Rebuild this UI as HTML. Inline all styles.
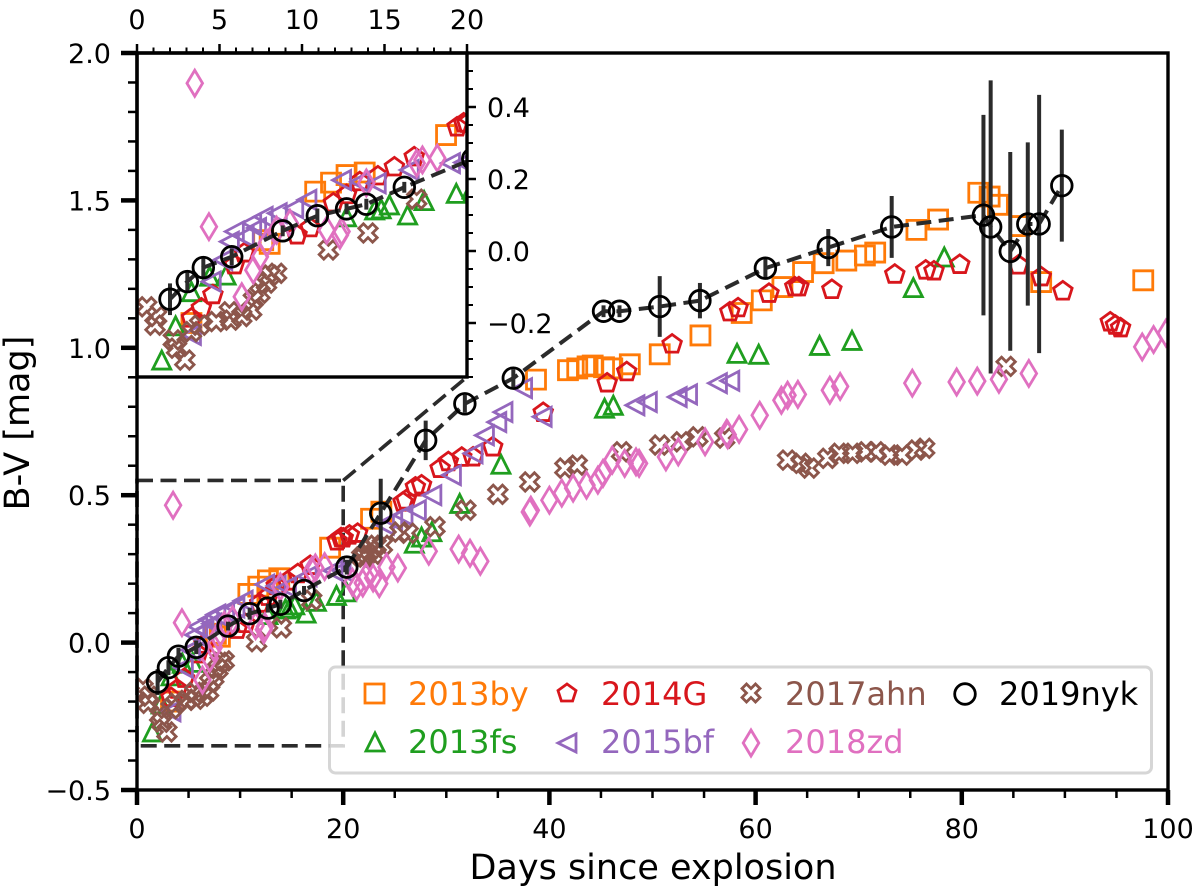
<!DOCTYPE html>
<html lang="en">
<head>
<meta charset="utf-8">
<title>B-V colour evolution</title>
<style>
  html, body { margin: 0; padding: 0; background: #fff; }
  svg { display: block; }
  text { font-family: "DejaVu Sans", "Liberation Sans", sans-serif; fill: #000; }
</style>
</head>
<body>
<svg id="chart" xmlns="http://www.w3.org/2000/svg" width="1200" height="888" viewBox="0 0 1200 888">
  <defs>
    <clipPath id="clip-main"><rect x="137" y="53" width="1031" height="737"/></clipPath>
    <clipPath id="clip-inset"><rect x="137" y="53" width="330" height="324"/></clipPath>
  </defs>
  <rect x="137" y="53" width="1031" height="737" fill="#fff"/>
  <g id="main-zoom-box" fill="none" stroke="#2b2b2b" stroke-width="3.6" stroke-dasharray="16 7.5"></g>
  <g id="main-series" clip-path="url(#clip-main)"></g>
  <g id="main-ticks"></g>

  <rect x="137" y="53" width="330" height="324" fill="#fff"/>
  <g id="inset-series" clip-path="url(#clip-inset)"></g>
  <g id="inset-ticks"></g>

  <g stroke="#000" stroke-width="3.4" fill="none">
    <rect x="137" y="53" width="1031" height="737"/>
  </g>
  <g stroke="#000" stroke-width="3.4" fill="none">
    <rect x="137" y="53" width="330" height="324"/>
  </g>

  <text x="653" y="879" font-size="35" text-anchor="middle">Days since explosion</text>
  <text x="0" y="0" font-size="35" text-anchor="middle" transform="translate(29,423) rotate(-90)">B-V [mag]</text>

  <g>
    <rect x="329.5" y="667" width="822" height="106" rx="6" fill="#fff" fill-opacity="0.8" stroke="#ccc" stroke-opacity="0.8" stroke-width="3"/>
    <g>
      <rect x="365" y="684" width="19" height="19" fill="none" stroke="#ff7a08" stroke-width="2.8"/>
      <text x="408" y="705" font-size="32" style="fill:#ff7a08">2013by</text>
    </g>
    <g>
      <polygon points="375,733 366,751 384,751" fill="none" stroke="#1f9e1f" stroke-width="2.8"/>
      <text x="408" y="753" font-size="32" style="fill:#1f9e1f">2013fs</text>
    </g>
    <g>
      <polygon points="567,684 576,690.5 572.6,701 561.4,701 558,690.5" fill="none" stroke="#d8161c" stroke-width="2.8"/>
      <text x="601" y="705" font-size="32" style="fill:#d8161c">2014G</text>
    </g>
    <g>
      <polygon points="558,743 576,734 576,752" fill="none" stroke="#9467bd" stroke-width="2.8"/>
      <text x="601" y="753" font-size="32" style="fill:#9467bd">2015bf</text>
    </g>
    <g>
      <polygon points="746.5,684 751,688.5 755.5,684 760,688.5 755.5,693 760,697.5 755.5,702 751,697.5 746.5,702 742,697.5 746.5,693 742,688.5" fill="none" stroke="#8c564b" stroke-width="2.8"/>
      <text x="785" y="705" font-size="32" style="fill:#8c564b">2017ahn</text>
    </g>
    <g>
      <polygon points="751,730 758.8,743 751,756 743.2,743" fill="none" stroke="#e070c0" stroke-width="2.8"/>
      <text x="785" y="753" font-size="32" style="fill:#e070c0">2018zd</text>
    </g>
    <g>
      <circle cx="965" cy="694" r="10.3" fill="none" stroke="#000" stroke-width="2.8"/>
      <text x="999" y="705" font-size="32">2019nyk</text>
    </g>
  </g>
</svg>

<script>
const byDays = [3.3,7.65,8.04,10.8,11.76,12.7,13.8,18.73,22.7,23.7,38.7,41.8,42.7,43.7,44.2,45.3,46.1,47.8,50.7,54.65,58.65,60.6,62.6,64.6,66.6,68.8,70.6,71.6,75.6,77.7,81.6,82.7,83.5,85.6,87.7,97.6];
const byColor = [-0.2,0.03,0.02,0.165,0.19,0.211,0.218,0.322,0.42,0.444,0.892,0.924,0.93,0.937,0.94,0.934,0.93,0.944,0.978,1.042,1.118,1.161,1.206,1.257,1.287,1.296,1.313,1.323,1.4,1.435,1.526,1.513,1.485,1.413,1.223,1.229];

const fsDays = [1.5,2.34,3.3,4.4,5.4,12.7,14.4,14.8,15.3,16.4,17.4,19.35,20.3,26.9,27.6,28.6,31.3,35.3,45.35,46.2,58.2,60.3,66.2,69.35,75.3,78.3];
const fsColor = [-0.303,-0.208,-0.113,-0.07,-0.067,0.095,0.114,0.117,0.128,0.1,0.14,0.16,0.172,0.337,0.358,0.376,0.472,0.605,0.795,0.805,0.981,0.978,1.008,1.025,1.204,1.308];

const gDays = [3.3,3.9,4.6,5.9,6.5,9.7,10.5,11.9,12.7,13.5,14.6,15.6,16.8,19.4,19.8,20,20.6,21.4,25.8,26.1,27,27.6,29.4,30.2,31.5,32.6,34.5,39.4,45.6,47.5,51.9,57.5,58.3,61.3,63.8,64.2,67.4,73.5,76.5,77.3,79.8,85.5,87.7,89.8,94.4,94.9,95.4];
const gColor = [-0.187,-0.159,-0.122,-0.039,-0.006,0.044,0.064,0.133,0.156,0.192,0.208,0.233,0.261,0.344,0.355,0.354,0.364,0.37,0.476,0.483,0.527,0.534,0.59,0.613,0.628,0.629,0.663,0.78,0.88,0.918,1.012,1.121,1.135,1.184,1.206,1.206,1.197,1.249,1.263,1.26,1.282,1.28,1.24,1.192,1.087,1.076,1.067];

const bfDays = [3.3,4.5,5.2,5.6,5.9,6.5,6.95,7.25,7.65,8.5,9.5,10.3,12.4,13.5,14.5,16.5,19,19.8,24,24.8,25.8,27.1,28.6,30.5,32.6,33.7,34.9,35.5,37.4,39.3,48.3,49.5,52.4,53.4,56.3,57.5];
const bfColor = [-0.233,-0.085,-0.025,0.026,0.054,0.04,0.078,0.064,0.095,0.105,0.119,0.142,0.197,0.192,0.188,0.225,0.244,0.246,0.4,0.415,0.432,0.449,0.5,0.568,0.642,0.703,0.748,0.782,0.863,0.766,0.805,0.816,0.833,0.842,0.88,0.888];

const ahnDays = [0.59,1.09,1.19,2.2,2.4,2.9,3.3,3.8,4.8,5.6,5.7,6.35,6.95,7.05,7.45,7.85,8.07,8.46,11.6,14,16.95,21.8,22.1,22.3,22.6,22.9,23.2,23.8,25.5,26.3,28.9,31.9,35,38.1,41.5,42.7,47,50.7,52.8,54.4,57,63.1,64.4,65.2,67,68.1,69.4,70.7,71.7,73,74.2,75.6,76.4,84.3];
const ahnColor = [-0.155,-0.206,-0.182,-0.247,-0.27,-0.303,-0.224,-0.206,-0.196,-0.169,-0.192,-0.182,-0.164,-0.136,-0.117,-0.089,-0.067,-0.062,0.003,0.05,0.144,0.29,0.29,0.303,0.314,0.3,0.33,0.33,0.375,0.371,0.393,0.449,0.503,0.545,0.592,0.602,0.647,0.67,0.681,0.698,0.694,0.619,0.608,0.592,0.625,0.642,0.642,0.647,0.647,0.636,0.636,0.653,0.659,0.937];

const zdDays = [3.5,4.36,6.35,7.05,7.45,7.86,8.46,9.27,11.5,12.3,12.4,13.9,16.95,17.3,18.2,20.9,21.3,21.9,22.2,22.9,23.5,24.2,25.3,28.3,31.2,32.3,33.3,38.1,38.2,40,41.2,42.3,43.6,44.7,45.2,46.1,47.3,48.4,48.7,51.3,52.5,55.1,57.2,57.3,58.4,60.4,62.5,63.1,64.1,67.2,68.2,75.2,79.5,81.5,83.6,86.5,97.5,98.6,99.8];
const zdColor = [0.466,0.0675,-0.127,-0.053,-0.016,0.022,0.058,0.077,0.058,0.044,0.054,0.189,0.244,0.253,0.258,0.205,0.19,0.202,0.222,0.219,0.2,0.256,0.253,0.31,0.317,0.303,0.276,0.443,0.449,0.483,0.507,0.524,0.534,0.551,0.574,0.619,0.608,0.613,0.608,0.63,0.647,0.681,0.71,0.705,0.723,0.771,0.822,0.839,0.842,0.856,0.869,0.88,0.884,0.887,0.893,0.913,1.003,1.028,1.05];

const nykDays = [2,3.05,4.02,5.74,8.83,10.93,12.7,13.9,16.2,20.35,23.64,28,31.8,36.5,45.25,46.8,50.7,54.6,60.95,67.05,73.2,82.1,82.8,84.7,86.4,87.5,89.7];
const nykColor = [-0.134,-0.085,-0.046,-0.016,0.056,0.098,0.117,0.13,0.177,0.256,0.439,0.686,0.81,0.897,1.124,1.124,1.14,1.16,1.27,1.34,1.41,1.45,1.41,1.327,1.42,1.42,1.55];
const nykError = [0.044,0.025,0.028,0.023,0.015,0.02,0.015,0.015,0.015,0.025,0.117,0.067,0.03,0.03,0.02,0.02,0.103,0.06,0.035,0.063,0.105,0.34,0.497,0.337,0.277,0.438,0.19];

const mainXTicks = [0,20,40,60,80,100];
const mainYTicks = [-0.5,0,0.5,1,1.5,2];
const mainYTickLabels = ['\u22120.5','0.0','0.5','1.0','1.5','2.0'];
const insetXTicks = [0,5,10,15,20];
const insetYTicks = [-0.2,0,0.2,0.4];
const insetYTickLabels = ['\u22120.2','0.0','0.2','0.4'];
const zoomDays = [0,20];
const zoomColor = [-0.35,0.55];

const SVGNS = 'http://www.w3.org/2000/svg';

function linear(d0, d1, r0, r1) {
  return function (v) { return r0 + (v - d0) * (r1 - r0) / (d1 - d0); };
}
const mainX = linear(0, 100, 137, 1168);
const mainY = linear(-0.5, 2, 790, 53);
const insetX = linear(0, 20, 137, 467);
const insetY = linear(-0.35, 0.55, 377, 53);

function polygonPoints(cx, cy, verts) {
  return verts.map(function (p) { return (cx + p[0]).toFixed(2) + ',' + (cy + p[1]).toFixed(2); }).join(' ');
}
const squareVerts = [[-9.5,-9.5],[9.5,-9.5],[9.5,9.5],[-9.5,9.5]];
const triUpVerts = [[0,-9],[-9,9],[9,9]];
const triLeftVerts = [[-9,0],[9,-9.5],[9,9.5]];
const pentVerts = [[0,-9.8],[9.3,-3],[5.8,7.9],[-5.8,7.9],[-9.3,-3]];
const xVerts = [[-4.6,-9.2],[0,-4.6],[4.6,-9.2],[9.2,-4.6],[4.6,0],[9.2,4.6],[4.6,9.2],[0,4.6],[-4.6,9.2],[-9.2,4.6],[-4.6,0],[-9.2,-4.6]];
const diamondVerts = [[0,-13],[7.8,0],[0,13],[-7.8,0]];

function drawPolygons(parent, days, colors, verts, stroke, sx, sy) {
  for (let i = 0; i < days.length; i++) {
    const el = document.createElementNS(SVGNS, 'polygon');
    
    
    el.setAttribute('points', polygonPoints(sx(days[i]), sy(colors[i]), verts));
    el.setAttribute('fill', 'none');
    el.setAttribute('stroke', stroke);
    el.setAttribute('stroke-width', '2.8');
    parent.appendChild(el);
  }
}

function drawNyk(parent, sx, sy) {
  const line = document.createElementNS(SVGNS, 'polyline');
  
  
  line.setAttribute('points', nykDays.map(function (d, i) { return sx(d).toFixed(2) + ',' + sy(nykColor[i]).toFixed(2); }).join(' '));
  line.setAttribute('fill', 'none');
  line.setAttribute('stroke', '#2b2b2b');
  line.setAttribute('stroke-width', '4');
  line.setAttribute('stroke-dasharray', '15 7.5');
  parent.appendChild(line);
  for (let i = 0; i < nykDays.length; i++) {
    const bar = document.createElementNS(SVGNS, 'line');
    
    
    bar.setAttribute('x1', sx(nykDays[i]));
    bar.setAttribute('x2', sx(nykDays[i]));
    bar.setAttribute('y1', sy(nykColor[i] + nykError[i]));
    bar.setAttribute('y2', sy(nykColor[i] - nykError[i]));
    bar.setAttribute('stroke', '#2b2b2b');
    bar.setAttribute('stroke-width', '4');
    parent.appendChild(bar);
  }
  for (let i = 0; i < nykDays.length; i++) {
    const c = document.createElementNS(SVGNS, 'circle');
    
    
    c.setAttribute('cx', sx(nykDays[i]));
    c.setAttribute('cy', sy(nykColor[i]));
    c.setAttribute('r', '10.3');
    c.setAttribute('fill', 'none');
    c.setAttribute('stroke', '#000');
    c.setAttribute('stroke-width', '2.8');
    parent.appendChild(c);
  }
}

function drawAll(parent, sx, sy) {
  drawPolygons(parent, byDays, byColor, squareVerts, '#ff7a08', sx, sy);
  drawPolygons(parent, fsDays, fsColor, triUpVerts, '#1f9e1f', sx, sy);
  drawPolygons(parent, gDays, gColor, pentVerts, '#d8161c', sx, sy);
  drawPolygons(parent, bfDays, bfColor, triLeftVerts, '#9467bd', sx, sy);
  drawPolygons(parent, ahnDays, ahnColor, xVerts, '#8c564b', sx, sy);
  drawPolygons(parent, zdDays, zdColor, diamondVerts, '#e070c0', sx, sy);
  drawNyk(parent, sx, sy);
}

function tick(parent, x1, y1, x2, y2, w) {
  const t = document.createElementNS(SVGNS, 'line');
  
  
  t.setAttribute('x1', x1);
  t.setAttribute('y1', y1);
  t.setAttribute('x2', x2);
  t.setAttribute('y2', y2);
  t.setAttribute('stroke', '#000');
  t.setAttribute('stroke-width', w);
  parent.appendChild(t);
}

function label(parent, x, y, str, anchor) {
  const t = document.createElementNS(SVGNS, 'text');
  
  
  t.setAttribute('x', x);
  t.setAttribute('y', y);
  t.setAttribute('font-size', '27');
  t.setAttribute('text-anchor', anchor);
  t.textContent = str;
  parent.appendChild(t);
}

const mainTicks = document.getElementById('main-ticks');
for (let d = 0; d <= 100; d += 5) tick(mainTicks, mainX(d), 790, mainX(d), 798, 2.5);
mainXTicks.forEach(function (d) {
  tick(mainTicks, mainX(d), 790, mainX(d), 805, 4.5);
  label(mainTicks, mainX(d), 838, String(d), 'middle');
});
for (let i = -5; i <= 20; i++) tick(mainTicks, 137, mainY(i / 10), 128, mainY(i / 10), 2.5);
mainYTicks.forEach(function (v, i) {
  tick(mainTicks, 137, mainY(v), 121, mainY(v), 4.5);
  label(mainTicks, 111, mainY(v) + 10, mainYTickLabels[i], 'end');
});

const insetTicks = document.getElementById('inset-ticks');
for (let d = 0; d <= 20; d++) tick(insetTicks, insetX(d), 53, insetX(d), 47.5, 2);
insetXTicks.forEach(function (d) {
  tick(insetTicks, insetX(d), 53, insetX(d), 44, 2.5);
  label(insetTicks, insetX(d), 29, String(d), 'middle');
});
for (let i = -7; i <= 11; i++) tick(insetTicks, 467, insetY(i * 0.05), 473, insetY(i * 0.05), 2);
insetYTicks.forEach(function (v, i) {
  tick(insetTicks, 467, insetY(v), 476, insetY(v), 2.5);
  label(insetTicks, 487, insetY(v) + 10, insetYTickLabels[i], 'start');
});

const zoomBox = document.getElementById('main-zoom-box');
const zoomPath = document.createElementNS(SVGNS, 'path');


zoomPath.setAttribute('d', 'M' + mainX(zoomDays[0]) + ' ' + mainY(zoomColor[1]) + 'H' + mainX(zoomDays[1]) + 'V' + mainY(zoomColor[0]) + 'H' + mainX(zoomDays[0]) + 'Z');
zoomBox.appendChild(zoomPath);
const connector = document.createElementNS(SVGNS, 'line');


connector.setAttribute('x1', mainX(zoomDays[1]));
connector.setAttribute('y1', mainY(zoomColor[1]));
connector.setAttribute('x2', insetX(zoomDays[1]));
connector.setAttribute('y2', insetY(zoomColor[0]));
zoomBox.appendChild(connector);

drawAll(document.getElementById('main-series'), mainX, mainY);
drawAll(document.getElementById('inset-series'), insetX, insetY);
</script>
</body>
</html>
